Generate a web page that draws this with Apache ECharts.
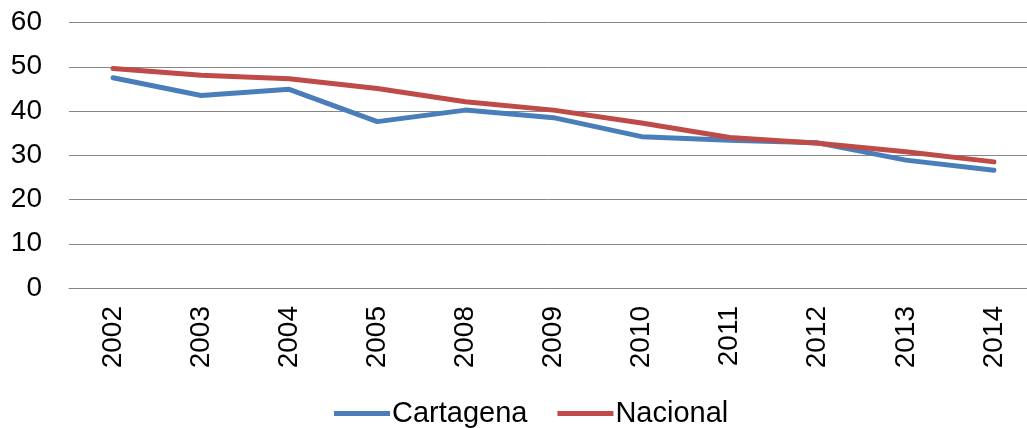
<!DOCTYPE html>
<html>
<head>
<meta charset="utf-8">
<script src="https://cdn.jsdelivr.net/npm/echarts@6/dist/echarts.min.js"></script>
<style>
  html, body { margin: 0; padding: 0; background: #fff; }
  #chart { width: 1027px; height: 428px; }
</style>
</head>
<body>
<div id="chart"></div>
<script>
// años del eje X
const years = ['2002', '2003', '2004', '2005', '2008', '2009', '2010', '2011', '2012', '2013', '2014'];
const cartagena = [47.5, 43.5, 44.9, 37.6, 40.2, 38.5, 34.2, 33.4, 32.8, 28.9, 26.6];
const nacional = [49.6, 48.1, 47.3, 45.1, 42.1, 40.2, 37.3, 34.0, 32.7, 30.8, 28.5];

const chart = echarts.init(document.getElementById('chart'), null, { renderer: 'canvas' });

const font = 'Liberation Sans, Arial, sans-serif';

chart.setOption({
  backgroundColor: '#fff',
  animation: false,
  textStyle: { fontFamily: font },
  // el área de trazado se sale un poco por la derecha, como en el original
  grid: { left: 69, width: 969, top: 22.5, height: 265.5, outerBoundsMode: 'none' },
  legend: {
    top: 394,
    left: 329,
    icon: 'rect',
    itemWidth: 56,
    itemHeight: 5,
    itemGap: 30,
    textStyle: { fontSize: 29, color: '#000', fontFamily: font, padding: [0, 0, 0, -3] },
    data: ['Cartagena', 'Nacional'],
  },
  xAxis: {
    type: 'category',
    data: years,
    boundaryGap: true,
    axisLine: { lineStyle: { color: '#868686', width: 1 } },
    axisTick: { show: false },
    axisLabel: { rotate: 90, margin: 18, fontSize: 28, color: '#000', interval: 0 },
  },
  yAxis: {
    type: 'value',
    min: 0,
    max: 60,
    interval: 10,
    axisLine: { show: false },
    axisTick: { show: false },
    axisLabel: { margin: 27, fontSize: 28, color: '#000' },
    splitLine: { lineStyle: { color: '#868686', width: 1 } },
  },
  series: [
    {
      name: 'Cartagena',
      type: 'line',
      data: cartagena,
      showSymbol: false,
      symbol: 'none',
      lineStyle: { width: 5, color: '#4A7EBB', cap: 'round', join: 'round' },
      itemStyle: { color: '#4A7EBB' },
    },
    {
      name: 'Nacional',
      type: 'line',
      data: nacional,
      showSymbol: false,
      symbol: 'none',
      lineStyle: { width: 5, color: '#BE4B48', cap: 'round', join: 'round' },
      itemStyle: { color: '#BE4B48' },
    },
  ],
});
</script>
</body>
</html>
